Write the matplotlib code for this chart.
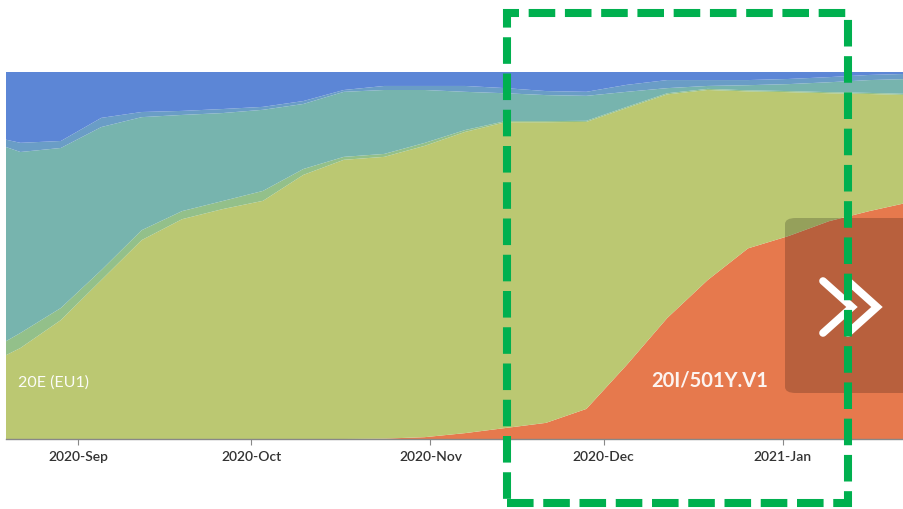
import matplotlib
matplotlib.use("Agg")
import matplotlib.pyplot as plt
import matplotlib.dates as mdates
from matplotlib.patches import Rectangle, FancyBboxPatch
from matplotlib.lines import Line2D
import numpy as np

plt.rcParams['font.family'] = ['Lato', 'DejaVu Sans']

# weekly clade frequencies (percent)
dates = ['2020-08-15', '2020-08-22', '2020-08-29', '2020-09-05', '2020-09-12',
         '2020-09-19', '2020-09-26', '2020-10-03', '2020-10-10', '2020-10-17',
         '2020-10-24', '2020-10-31', '2020-11-07', '2020-11-14', '2020-11-21',
         '2020-11-28', '2020-12-05', '2020-12-12', '2020-12-19', '2020-12-26',
         '2021-01-02', '2021-01-09', '2021-01-16', '2021-01-23']

v501y = [0, 0, 0, 0, 0, 0, 0, 0, 0, 0, 0.1, 0.5, 1.6, 3.0, 4.4, 8.2,
         20.2, 33.0, 43.3, 52.0, 55.3, 59.4, 62.1, 64.6]
eu1 = [19.3, 24.8, 32.4, 43.3, 54.2, 59.9, 62.7, 64.9, 71.9, 76.0, 76.7, 79.3,
       82.0, 83.4, 82.0, 78.2, 70.0, 61.0, 51.8, 42.8, 39.2, 34.9, 31.9, 29.2]
other_green = [3.3, 4.1, 3.3, 2.7, 2.7, 2.2, 2.2, 2.7, 1.6, 0.8, 0.8, 0.8,
               0.5, 0.3, 0.3, 0.3, 0.3, 0.3, 0.3, 0.3, 0.3, 0.3, 0.3, 0.3]
teal = [59.4, 49.3, 43.6, 39.0, 30.8, 26.2, 24.0, 22.1, 17.7, 17.7, 17.4, 14.4,
        10.4, 7.6, 7.1, 6.8, 4.1, 1.4, 0.8, 1.4, 1.9, 2.7, 3.5, 4.1]
other_blue = [1.1, 2.5, 1.9, 2.5, 1.4, 1.1, 1.1, 0.8, 0.8, 0.5, 1.1, 1.1,
              1.6, 1.4, 1.1, 1.1, 1.9, 2.2, 1.6, 1.4, 1.4, 1.4, 1.4, 1.4]
blue = [16.9, 19.3, 18.8, 12.5, 10.9, 10.6, 10.1, 9.5, 7.9, 4.9, 3.8, 3.8,
        3.8, 4.4, 5.2, 5.4, 3.5, 2.2, 2.2, 2.2, 1.9, 1.4, 0.8, 0.5]

colors = ['#e6794d', '#bbc872', '#93c08a', '#77b4ae', '#6a9dc6', '#5c86d6']

x = np.array(dates, dtype='datetime64[D]')
layers = np.array([v501y, eu1, other_green, teal, other_blue, blue])
layers = layers / layers.sum(axis=0)

W, H = 904, 509
fig = plt.figure(figsize=(W / 100, H / 100), dpi=100)
ax = fig.add_axes([6 / W, 70 / H, 898 / W, 367 / H])
ax.stackplot(x, layers, colors=colors, linewidth=0)

ax.set_xlim(mdates.date2num(np.datetime64('2020-08-19T12')),
            mdates.date2num(np.datetime64('2021-01-22')))
ax.set_ylim(0, 1)
ax.xaxis.set_major_locator(mdates.MonthLocator())
ax.xaxis.set_major_formatter(mdates.DateFormatter('%Y-%b'))
ax.tick_params(axis='x', length=4, color='#888888', labelsize=10,
               labelcolor='#333333', pad=4.5)
for lab in ax.get_xticklabels():
    lab.set_fontweight('semibold')
ax.set_yticks([])
for s in ['top', 'left', 'right']:
    ax.spines[s].set_visible(False)
ax.spines['bottom'].set_color('#888888')
ax.spines['bottom'].set_linewidth(1)

ax.text(mdates.date2num(np.datetime64('2020-08-21T12')), 0.155, '20E (EU1)',
        color='white', fontsize=11.5, va='center', ha='left', alpha=0.95)
ax.text(mdates.date2num(np.datetime64('2020-12-19T10')), 0.16, '20I/501Y.V1',
        color='white', fontsize=14.5, fontweight='bold', va='center',
        ha='center', alpha=0.92)


def fx(px):
    return px / W


def fy(py):
    return 1 - py / H


# dark overlay button with double chevron
box = FancyBboxPatch((fx(785), fy(393)), fx(140), 175 / H,
                     boxstyle='round,pad=0,rounding_size=0.012',
                     transform=fig.transFigure, facecolor='black', alpha=0.2,
                     edgecolor='none', zorder=5)
fig.add_artist(box)
for x0 in [823, 848]:
    fig.add_artist(Line2D([fx(x0), fx(x0 + 29), fx(x0)],
                          [fy(281), fy(307), fy(333)], color='white',
                          linewidth=5.5, solid_capstyle='round',
                          solid_joinstyle='miter', transform=fig.transFigure,
                          zorder=6))

# green dashed highlight rectangle
rect = Rectangle((fx(507), fy(503)), fx(848 - 507), (503 - 13) / H,
                 transform=fig.transFigure, fill=False, edgecolor='#00b04f',
                 linewidth=5.8, linestyle=(0, (3.3, 1.2)), zorder=7)
fig.add_artist(rect)

fig.savefig('out.png', dpi=100)
